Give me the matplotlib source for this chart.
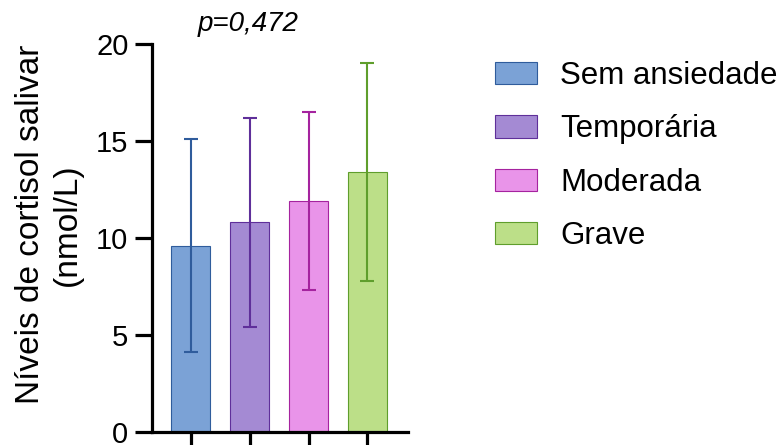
import numpy as np
import matplotlib.pyplot as plt
from matplotlib.patches import Patch

plt.rcParams['font.family'] = ['Liberation Sans', 'DejaVu Sans']

groups = ['Sem ansiedade', 'Temporária', 'Moderada', 'Grave']
means = [9.6, 10.8, 11.9, 13.4]
sds = [5.5, 5.4, 4.6, 5.6]
fills = ['#7ba2d6', '#a48ad3', '#e994e9', '#bcdf88']
edges = ['#2f5c9c', '#5f2f9a', '#a5239f', '#5f9e2c']

fig = plt.figure(figsize=(7.78, 4.45), dpi=100)
ax = fig.add_axes([152/778, 13/445, (408-152)/778, (432-44)/445])

x = np.arange(len(groups))
for i in range(len(groups)):
    ax.bar(x[i], means[i], width=0.66, color=fills[i], edgecolor=edges[i], linewidth=0.8, zorder=2)
    ax.errorbar(x[i], means[i], yerr=sds[i], color=edges[i], elinewidth=1.5, capsize=5, capthick=1.5, zorder=3)

ax.set_xlim(-0.66, 3.69)
ax.set_ylim(0, 20)
ax.set_yticks([0, 5, 10, 15, 20])
ax.set_xticks(x)
ax.set_xticklabels([])
for s in ['top', 'right']:
    ax.spines[s].set_visible(False)
for s in ['left', 'bottom']:
    ax.spines[s].set_linewidth(2.3)
ax.tick_params(axis='both', width=2.3, length=12, labelsize=21, pad=5)
ax.set_ylabel('Níveis de cortisol salivar\n(nmol/L)', fontsize=24, linespacing=1.25)
ax.yaxis.set_label_coords(-0.27, 0.534)

ax.text(0.97, 21.05, 'p=0,472', fontsize=20, style='italic', ha='center', va='center', clip_on=False)

handles = [Patch(facecolor=fills[i], edgecolor=edges[i], linewidth=0.8) for i in range(len(groups))]
fig.legend(handles, groups, loc='upper left', bbox_to_anchor=(495/778, (445-61)/445),
           frameon=False, fontsize=22.5, borderpad=0, borderaxespad=0,
           handlelength=1.35, handleheight=0.71, handletextpad=0.74, labelspacing=0.75)

plt.savefig('out.png', dpi=100)
